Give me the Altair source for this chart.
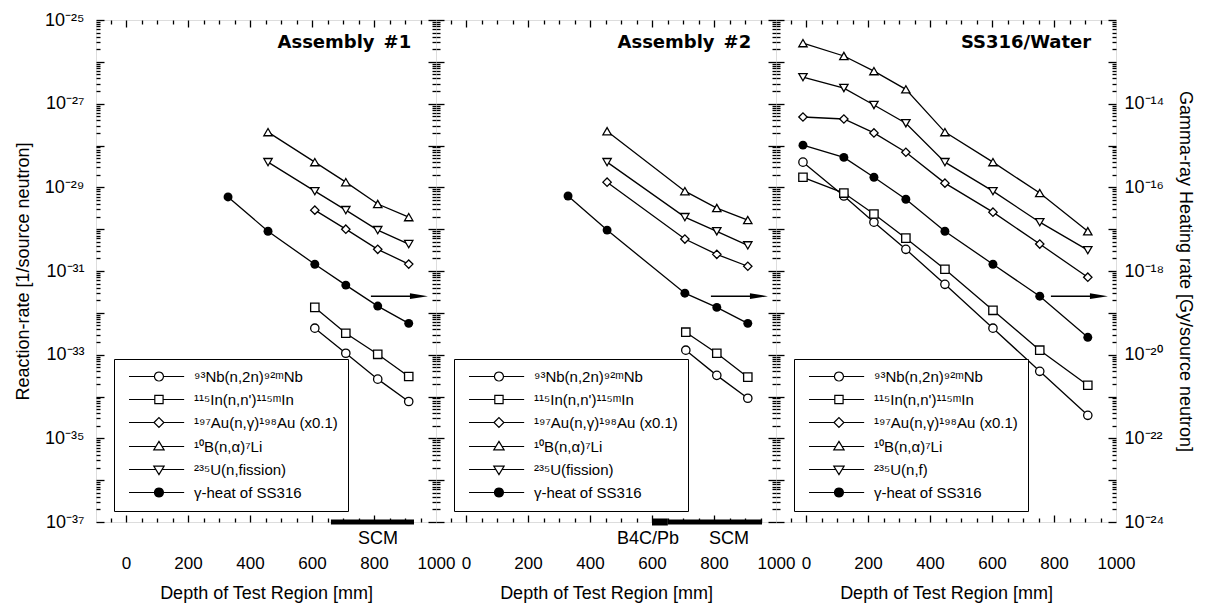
import math
import altair as alt
import pandas as pd

W, H = 340, 502
FONT = "Liberation Sans"
TFONT = "DejaVu Sans"

# ---------------- series labels ----------------
NB_LABEL = "⁹³Nb(n,2n)⁹²ᵐNb"
IN_LABEL = "¹¹⁵In(n,n')¹¹⁵ᵐIn"
AU_LABEL = "¹⁹⁷Au(n,γ)¹⁹⁸Au (x0.1)"
B_LABEL = "¹⁰B(n,α)⁷Li"
GAMMA_LABEL = "γ-heat of SS316"
U_LABEL_1 = "²³⁵U(n,fission)"
U_LABEL_2 = "²³⁵U(fission)"
U_LABEL_3 = "²³⁵U(n,f)"

# ---------------- Assembly #1 ----------------
a1_depth_b = [458, 609, 709, 812, 912]
a1_b = [2.09e-28, 4.0e-29, 1.33e-29, 4.0e-30, 1.94e-30]
a1_depth_u = [458, 609, 709, 812, 912]
a1_u = [4.0e-29, 8.1e-30, 2.85e-30, 9.5e-31, 4.4e-31]
a1_depth_au = [609, 709, 812, 912]
a1_au = [2.85e-30, 1.0e-30, 3.3e-31, 1.46e-31]
a1_depth_in = [609, 709, 812, 912]
a1_in = [1.35e-32, 3.25e-33, 1.02e-33, 3.0e-34]
a1_depth_nb = [609, 709, 812, 912]
a1_nb = [4.3e-33, 1.08e-33, 2.6e-34, 7.6e-35]
a1_depth_gamma = [329, 458, 609, 709, 812, 912]
a1_gamma = [5.9e-17, 8.9e-18, 1.45e-18, 4.6e-19, 1.45e-19, 5.6e-20]   # Gy/source neutron

# ---------------- Assembly #2 ----------------
a2_depth_b = [455, 706, 809, 909]
a2_b = [2.2e-28, 8.1e-30, 3.2e-30, 1.65e-30]
a2_depth_u = [455, 706, 809, 909]
a2_u = [4.0e-29, 1.94e-30, 8.9e-31, 4.1e-31]
a2_depth_au = [455, 706, 809, 909]
a2_au = [1.33e-29, 5.8e-31, 2.5e-31, 1.3e-31]
a2_depth_in = [709, 809, 909]
a2_in = [3.45e-33, 1.08e-33, 2.9e-34]
a2_depth_nb = [709, 809, 909]
a2_nb = [1.28e-33, 3.2e-34, 9.1e-35]
a2_depth_gamma = [329, 455, 706, 809, 909]
a2_gamma = [6.2e-17, 9.5e-18, 2.95e-19, 1.35e-19, 5.6e-20]

# ---------------- SS316/Water ----------------
s_depth = [-10, 122, 219, 322, 448, 603, 754, 909]
s_b = [2.8e-26, 1.38e-26, 6.0e-27, 2.2e-27, 2.09e-28, 4.0e-29, 7.3e-30, 8.9e-31]
s_u = [4.3e-27, 2.36e-27, 9.3e-28, 3.4e-28, 4.0e-29, 8.1e-30, 1.47e-30, 3.15e-31]
s_au = [4.8e-28, 4.3e-28, 2.0e-28, 6.9e-29, 1.26e-29, 2.55e-30, 4.4e-31, 7.1e-32]
s_in = [1.74e-29, 7.3e-30, 2.3e-30, 6.1e-31, 1.1e-31, 1.15e-32, 1.28e-33, 1.86e-34]
s_nb = [4.0e-29, 6.2e-30, 1.47e-30, 3.3e-31, 4.8e-32, 4.3e-33, 4.0e-34, 3.55e-35]
s_gamma = [1.02e-15, 5.2e-16, 1.74e-16, 5.2e-17, 8.9e-18, 1.45e-18, 2.5e-19, 2.6e-20]

# ---------------- annotations ----------------
arrow_x_start = [790]
arrow_x_head = [945]
arrow_y = [2.5e-32]          # on reaction-rate scale, pointing to the right axis

a1_region = ["SCM"]
a1_region_start = [661]
a1_region_end = [929]
a1_region_label_x = [813]
a2_region = ["B4C/Pb", "SCM"]
a2_region_start = [600, 651]
a2_region_end = [651, 955]
a2_region_label_x = [587, 848]
region_label_y = 3.98e-38

panel_title_x = [920]
panel_title_y = [2.8e-26]

x_label_values = [0, 200, 400, 600, 800, 1000]
x_major = [0, 200, 400, 600, 800]
x_minor = [v for v in range(-50, 1000, 50) if v % 200 != 0]
rate_exps = list(range(-37, -24))
rate_label_exps = [-25, -27, -29, -31, -33, -35, -37]
gamma_label_exps = [-14, -16, -18, -20, -22, -24]

# ---------------- helpers ----------------
SUP = str.maketrans("0123456789-", "⁰¹²³⁴⁵⁶⁷⁸⁹⁻")


def pow_label(e):
    return "10" + str(e).translate(SUP)


def label_expr(exps):
    s = ""
    for e in exps:
        s += f"round(log(datum.value)/LN10) == {e} ? '{pow_label(e)}' : "
    return s + "''"


def xs():
    return alt.Scale(domain=[-97, 1000], nice=False, zero=False)


def rs():
    return alt.Scale(type="log", domain=[1e-37, 1e-25], nice=False)


def gs():
    return alt.Scale(type="log", domain=[1e-24, 1e-12], nice=False)


y_major = [10.0 ** e for e in rate_exps]
y_minor = [m * 10.0 ** e for e in rate_exps[:-1] for m in range(2, 10)]

# legend symbols: a line with its marker (unit = marker radius)
X0, CX, X1 = -0.55, 6.1, 11.7


def _poly(pts, r=1.0):
    return "M" + " L".join(f"{CX + r * x:.3f},{r * y:.3f}" for x, y in pts) + " Z"


def _leg(pts, gap):
    return f"M{X0},0 L{CX - gap:.3f},0 M{CX + gap:.3f},0 L{X1},0 " + _poly(pts)


circ = [(math.cos(2 * math.pi * k / 20), math.sin(2 * math.pi * k / 20)) for k in range(20)]
filled_circle = (f"M{X0},0 L{X1},0 " + " ".join(_poly(circ, r) for r in (1.0, 0.78, 0.56, 0.34, 0.12)))
LEG_SHAPES = [
    _leg(circ, 1.0),
    _leg([(-0.92, -0.92), (0.92, -0.92), (0.92, 0.92), (-0.92, 0.92)], 0.92),
    _leg([(-1.1, 0), (0, -1.1), (1.1, 0), (0, 1.1)], 1.1),
    _leg([(0, -1.15), (1.15, 0.75), (-1.15, 0.75)], 0.7),
    _leg([(0, 1.15), (1.15, -0.75), (-1.15, -0.75)], 0.7),
    filled_circle,
]
PLOT_SHAPES = ["circle", "square", "diamond", "triangle-up", "triangle-down"]


def tick_axis(orient, offset, values, size):
    return alt.Axis(orient=orient, offset=offset, values=values, tickSize=size,
                    labels=False, domain=False, grid=False, title=None,
                    ticks=True, tickWidth=1.3, tickColor="black")


def panel(title, series, g_depth, g_vals, regions, show_left, show_right):
    labels = [s[0] for s in series] + [GAMMA_LABEL]
    rows = []
    for lab, d, v in series:
        rows += [{"depth": a, "value": b, "series": lab} for a, b in zip(d, v)]
    rate_df = pd.DataFrame(rows)
    gam_df = pd.DataFrame({"depth": g_depth, "value": g_vals, "series": GAMMA_LABEL})
    base = alt.Chart(rate_df)
    empty = alt.Chart(rate_df).transform_filter("false")

    lines = base.mark_line(color="black", strokeWidth=1.3).encode(
        x=alt.X("depth:Q", scale=xs(), axis=None),
        y=alt.Y("value:Q", scale=rs(), axis=None),
        detail="series:N")
    pts = base.mark_point(filled=True, fill="white", stroke="black", strokeWidth=1.3,
                          size=70, opacity=1).encode(
        x=alt.X("depth:Q", scale=xs(), axis=None),
        y=alt.Y("value:Q", scale=rs(), axis=None),
        shape=alt.Shape("series:N", scale=alt.Scale(domain=labels[:-1], range=PLOT_SHAPES), legend=None))
    gline = alt.Chart(gam_df).mark_line(color="black", strokeWidth=1.3).encode(
        x=alt.X("depth:Q", scale=xs(), axis=None),
        y=alt.Y("value:Q", scale=gs(), axis=None))
    gpts = alt.Chart(gam_df).mark_point(filled=True, color="black", size=80, opacity=1).encode(
        x=alt.X("depth:Q", scale=xs(), axis=None),
        y=alt.Y("value:Q", scale=gs(), axis=None))

    arr_df = pd.DataFrame({"x0": arrow_x_start, "x1": arrow_x_head, "y": arrow_y})
    arr_line = alt.Chart(arr_df).mark_rule(color="black", strokeWidth=1.4).encode(
        x=alt.X("x0:Q", scale=xs(), axis=None), x2="x1:Q",
        y=alt.Y("y:Q", scale=rs(), axis=None))
    arr_head = alt.Chart(arr_df).mark_point(shape="M-1,-0.32 L1,0 L-1,0.32 Z", size=324,
                                            filled=True, color="black", opacity=1).encode(
        x=alt.X("x1:Q", scale=xs(), axis=None),
        y=alt.Y("y:Q", scale=rs(), axis=None))

    t_df = pd.DataFrame({"x": panel_title_x, "y": panel_title_y, "t": [title]})
    title_mark = alt.Chart(t_df).mark_text(font=TFONT, fontSize=18, fontWeight="bold",
                                           color="black", align="right", baseline="middle").encode(
        x=alt.X("x:Q", scale=xs(), axis=None),
        y=alt.Y("y:Q", scale=rs(), axis=None),
        text="t:N")

    layers = [lines, pts, gline, gpts, arr_line, arr_head, title_mark]

    if regions is not None:
        names, st, en, lx = regions
        reg_df = pd.DataFrame({"name": names, "start": st, "end": en, "lx": lx,
                               "ly": [region_label_y] * len(names),
                               "y": [1e-37] * len(names)})
        bars = alt.Chart(reg_df).mark_rule(color="black", strokeCap="butt").encode(
            x=alt.X("start:Q", scale=xs(), axis=None), x2="end:Q",
            y=alt.Y("y:Q", scale=rs(), axis=None),
            strokeWidth=alt.StrokeWidth("name:N", scale=alt.Scale(domain=["B4C/Pb", "SCM"], range=[7, 5]), legend=None))
        texts = alt.Chart(reg_df).mark_text(font=FONT, fontSize=18, color="black", baseline="middle").encode(
            x=alt.X("lx:Q", scale=xs(), axis=None),
            y=alt.Y("ly:Q", scale=rs(), axis=None),
            text="name:N")
        layers += [bars, texts]

    leg = alt.Legend(orient="none", legendX=18, legendY=339, title=None, direction="vertical",
                     strokeColor="black", fillColor="white", padding=10,
                     labelFont=FONT, labelFontSize=15, labelColor="black", labelLimit=400,
                     labelOffset=55, rowPadding=7, symbolSize=81, symbolOpacity=1,
                     symbolFillColor="white", symbolStrokeColor="black", symbolStrokeWidth=1.2)
    legend_layer = empty.mark_point(stroke="black").encode(
        shape=alt.Shape("series:N", scale=alt.Scale(domain=labels, range=LEG_SHAPES), legend=leg))
    layers.append(legend_layer)

    def xax(axis):
        return empty.mark_point(opacity=0).encode(
            x=alt.X("depth:Q", scale=xs(), axis=axis),
            y=alt.Y("value:Q", scale=rs(), axis=None))

    def yax(axis, scale):
        return empty.mark_point(opacity=0).encode(
            x=alt.X("depth:Q", scale=xs(), axis=None),
            y=alt.Y("value:Q", scale=scale, axis=axis))

    layers += [
        xax(alt.Axis(orient="bottom", values=x_label_values, format="d", ticks=False, tickSize=0,
                     domain=False, grid=False, labelPadding=33, labelFontSize=17, labelFlush=False,
                     labelOverlap=False, title="Depth of Test Region [mm]", titleFontSize=18,
                     titleFontWeight="normal", titlePadding=13)),
        xax(tick_axis("top", -H, x_major, 7)),
        xax(tick_axis("top", -H, x_minor, 4)),
        xax(tick_axis("bottom", -H, x_major, 7)),
        xax(tick_axis("bottom", -H, x_minor, 4)),
        yax(tick_axis("right", -W, y_major, 8), rs()),
        yax(tick_axis("right", -W, y_minor, 4), rs()),
        yax(tick_axis("left", -W, y_major, 8), rs()),
        yax(tick_axis("left", -W, y_minor, 4), rs()),
    ]
    if show_left:
        layers.append(yax(alt.Axis(orient="left", values=[10.0 ** e for e in rate_label_exps],
                                   ticks=False, tickSize=0, domain=False, grid=False,
                                   labelPadding=12, labelFontSize=18, labelFlush=False,
                                   labelOverlap=False, labelExpr=label_expr(rate_label_exps),
                                   title="Reaction-rate [1/source neutron]", titleFontSize=18,
                                   titleFontWeight="normal", titlePadding=12), rs()))
    if show_right:
        layers.append(yax(alt.Axis(orient="right", values=[10.0 ** e for e in gamma_label_exps],
                                   ticks=False, tickSize=0, domain=False, grid=False,
                                   labelPadding=8, labelFontSize=18, labelFlush=False,
                                   labelOverlap=False, labelExpr=label_expr(gamma_label_exps),
                                   title="Gamma-ray Heating rate [Gy/source neutron]",
                                   titleFontSize=18, titleFontWeight="normal",
                                   titlePadding=12), gs()))

    return alt.layer(*layers).resolve_scale(
        x="independent", y="independent", shape="independent",
        strokeWidth="independent"
    ).resolve_axis(x="independent", y="independent").properties(width=W, height=H)


p1 = panel("Assembly\u2002#1",
           [(NB_LABEL, a1_depth_nb, a1_nb), (IN_LABEL, a1_depth_in, a1_in),
            (AU_LABEL, a1_depth_au, a1_au), (B_LABEL, a1_depth_b, a1_b),
            (U_LABEL_1, a1_depth_u, a1_u)],
           a1_depth_gamma, a1_gamma,
           (a1_region, a1_region_start, a1_region_end, a1_region_label_x), True, False)
p2 = panel("Assembly\u2002#2",
           [(NB_LABEL, a2_depth_nb, a2_nb), (IN_LABEL, a2_depth_in, a2_in),
            (AU_LABEL, a2_depth_au, a2_au), (B_LABEL, a2_depth_b, a2_b),
            (U_LABEL_2, a2_depth_u, a2_u)],
           a2_depth_gamma, a2_gamma,
           (a2_region, a2_region_start, a2_region_end, a2_region_label_x), False, False)
p3 = panel("SS316/Water",
           [(NB_LABEL, s_depth, s_nb), (IN_LABEL, s_depth, s_in),
            (AU_LABEL, s_depth, s_au), (B_LABEL, s_depth, s_b),
            (U_LABEL_3, s_depth, s_u)],
           s_depth, s_gamma, None, False, True)

chart = alt.hconcat(p1, p2, p3, spacing=0, bounds="flush").properties(
    padding={"left": 5, "top": 2, "right": 5, "bottom": 5}
).configure_view(stroke="black", strokeWidth=1.5).configure_axis(
    labelFont=FONT, titleFont=FONT, labelColor="black", titleColor="black",
    titleFontWeight="normal", grid=False
).configure(background="white")

chart.save("out.html", embed_options={"renderer": "svg", "actions": False})
